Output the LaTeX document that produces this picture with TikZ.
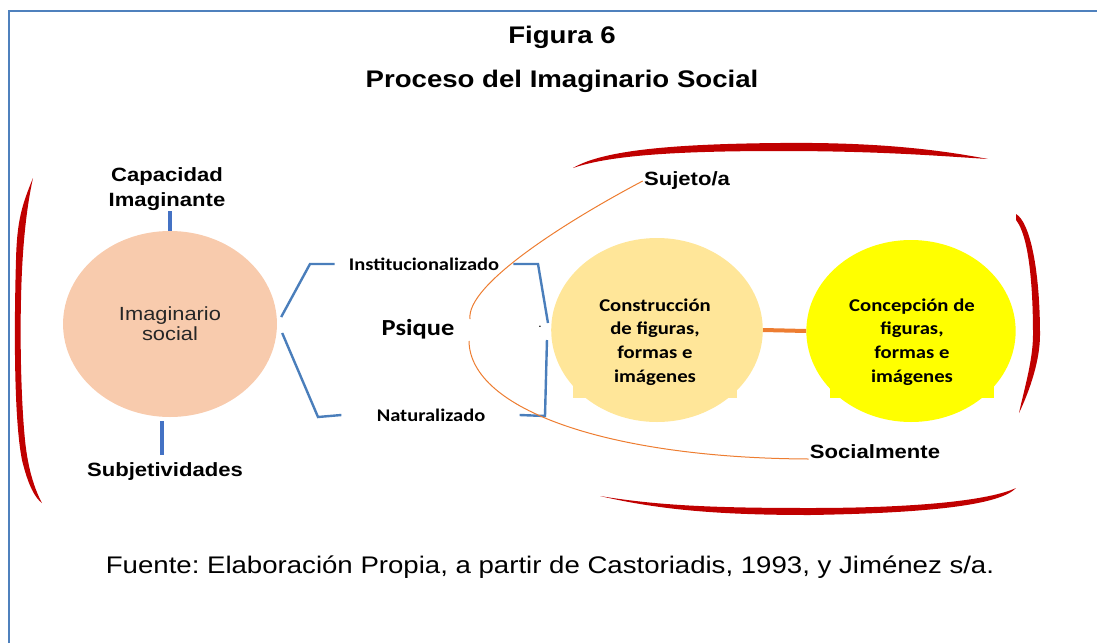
\documentclass[tikz,border=0pt]{standalone}
\usepackage{fontspec}
\setmainfont{Liberation Sans}
\newfontfamily\calfont{Carlito}
\frenchspacing
\definecolor{peach}{RGB}{248,203,173}
\definecolor{gold}{RGB}{255,230,153}
\definecolor{brightyellow}{RGB}{255,255,0}
\definecolor{bracketblue}{RGB}{74,126,187}
\definecolor{barblue}{RGB}{68,114,196}
\definecolor{linkorange}{RGB}{237,125,49}
\definecolor{brushred}{RGB}{192,0,0}
\definecolor{frameblue}{RGB}{79,129,189}

\begin{document}
\begin{tikzpicture}[x=1pt, y=-1pt, inner sep=1pt,
  every node/.append style={xscale=1.15},
  title/.style={font=\bfseries\fontsize{24}{28}\selectfont},
  lbl/.style={font=\bfseries\fontsize{19.2}{24.5}\selectfont, align=center},
  cal/.style={font=\calfont\bfseries\fontsize{17.8}{21}\selectfont},
  psyche/.style={font=\calfont\bfseries\fontsize{23}{26}\selectfont},
  disc/.style={circle, draw=none},
  circtext/.style={font=\calfont\bfseries\fontsize{18}{23.7}\selectfont, align=center, minimum width=142pt, minimum height=111pt},
  bracket/.style={draw=bracketblue, line width=2.4pt},
  bluebar/.style={draw=barblue, line width=4pt},
  thread/.style={draw=linkorange, line width=1pt},
  link/.style={draw=linkorange, line width=4pt},
  brush/.style={fill=brushred},
  framedge/.style={draw=frameblue, line width=2pt}]
\useasboundingbox (0,0) rectangle (1097,643);
\draw[framedge] (9,643) -- (9,11) -- (1097,11);

\node (fig) at (562,37) [title] {Figura 6};
\node (proc) at (562,81) [title] {Proceso del Imaginario Social};

\fill[brush] (33,178) .. controls (22,205) and (17,220) .. (16,260) .. controls (14,330) and (14,420) .. (22,460) .. controls (28,485) and (35,498) .. (42,503) .. controls (35,490) and (28,470) .. (25,440) .. controls (21,400) and (20,340) .. (21,300) .. controls (22,250) and (26,210) .. (33,178) -- cycle;
\fill[brush] (573,168) .. controls (600,152) and (660,144) .. (780,143) .. controls (880,142) and (940,150) .. (988,159) .. controls (940,156) and (880,151) .. (780,151) .. controls (680,151) and (610,155) .. (573,168) -- cycle;
\fill[brush] (1016,214) .. controls (1030,222) and (1040,270) .. (1040,335) .. controls (1040,360) and (1030,390) .. (1019,413) .. controls (1024,390) and (1033,360) .. (1033,335) .. controls (1033,280) and (1028,235) .. (1016,220) -- cycle;
\fill[brush] (600,496) .. controls (660,506) and (720,508) .. (810,508) .. controls (920,508) and (990,500) .. (1016,488) .. controls (1000,505) and (930,513) .. (810,515) .. controls (720,515) and (660,510) .. (600,496) -- cycle;

\node (imag) at (170,324) [disc, fill=peach, minimum size=186pt, font=\fontsize{19}{20}\selectfont, text=black!85, align=center] {Imaginario\\social};
\node (cap) at (167,189) [lbl] {Capacidad\\Imaginante};
\node (subj) at (165,472) [lbl] {Subjetividades};
\node (inst) at (424,264) [cal] {Institucionalizado};
\node (nat) at (431,415) [cal] {Naturalizado};
\node (psi) at (418,329) [psyche] {Psique};
\node (dot) at (540,327) [font=\fontsize{12}{12}\selectfont] {.};
\node (circA) at (657,330) [disc, fill=gold, minimum size=184pt] {};
\node (constr) at (655,342) [circtext, fill=gold] {Construcción\\de figuras,\\formas e\\imágenes};
\node (circB) at (911,331) [disc, fill=brightyellow, minimum size=182pt] {};
\node (concep) at (912,342) [circtext, fill=brightyellow] {Concepción de\\figuras,\\formas e\\imágenes};
\node (suj) at (687,181) [lbl] {Sujeto/a};
\node (soc) at (875,452) [lbl] {Socialmente};
\node (src) at (550,567) [font=\fontsize{24}{28}\selectfont] {Fuente: Elaboración Propia, a partir de Castoriadis, 1993, y Jiménez s/a.};

\coordinate (kneeA) at (310,264);
\coordinate (kneeB) at (318,417);
\coordinate (kneeC) at (538,264);
\coordinate (kneeD) at (545,416);
\coordinate (psiTop) at (470,319);
\coordinate (psiBot) at (469,341);

\draw[bluebar] (imag.north) -- (imag.north |- cap.south);
\draw[bluebar, shorten >=7pt] ([shift={(-8,4)}]imag.south) -- ([xshift=-8pt]imag.south |- subj.north);
\draw[bracket] ([shift={(4,-7)}]imag.east) -- (kneeA) -- ([xshift=-13pt]inst.west);
\draw[bracket] ([shift={(5,9)}]imag.east) -- (kneeB) -- ([xshift=-34pt]nat.west);
\draw[bracket] ([xshift=13pt]inst.east) -- (kneeC) -- ([shift={(-3,-7)}]circA.west);
\draw[bracket] ([xshift=33pt]nat.east) -- (kneeD) -- ([shift={(-4,10)}]circA.west);
\draw[thread] (psiTop) .. controls (466,285) and (565,222) .. (suj.west);
\draw[thread] (psiBot) .. controls (470,410) and (610,458) .. ([shift={(0,7)}]soc.west);
\draw[link] (circA.east) -- (circB.west);
\end{tikzpicture}
\end{document}
